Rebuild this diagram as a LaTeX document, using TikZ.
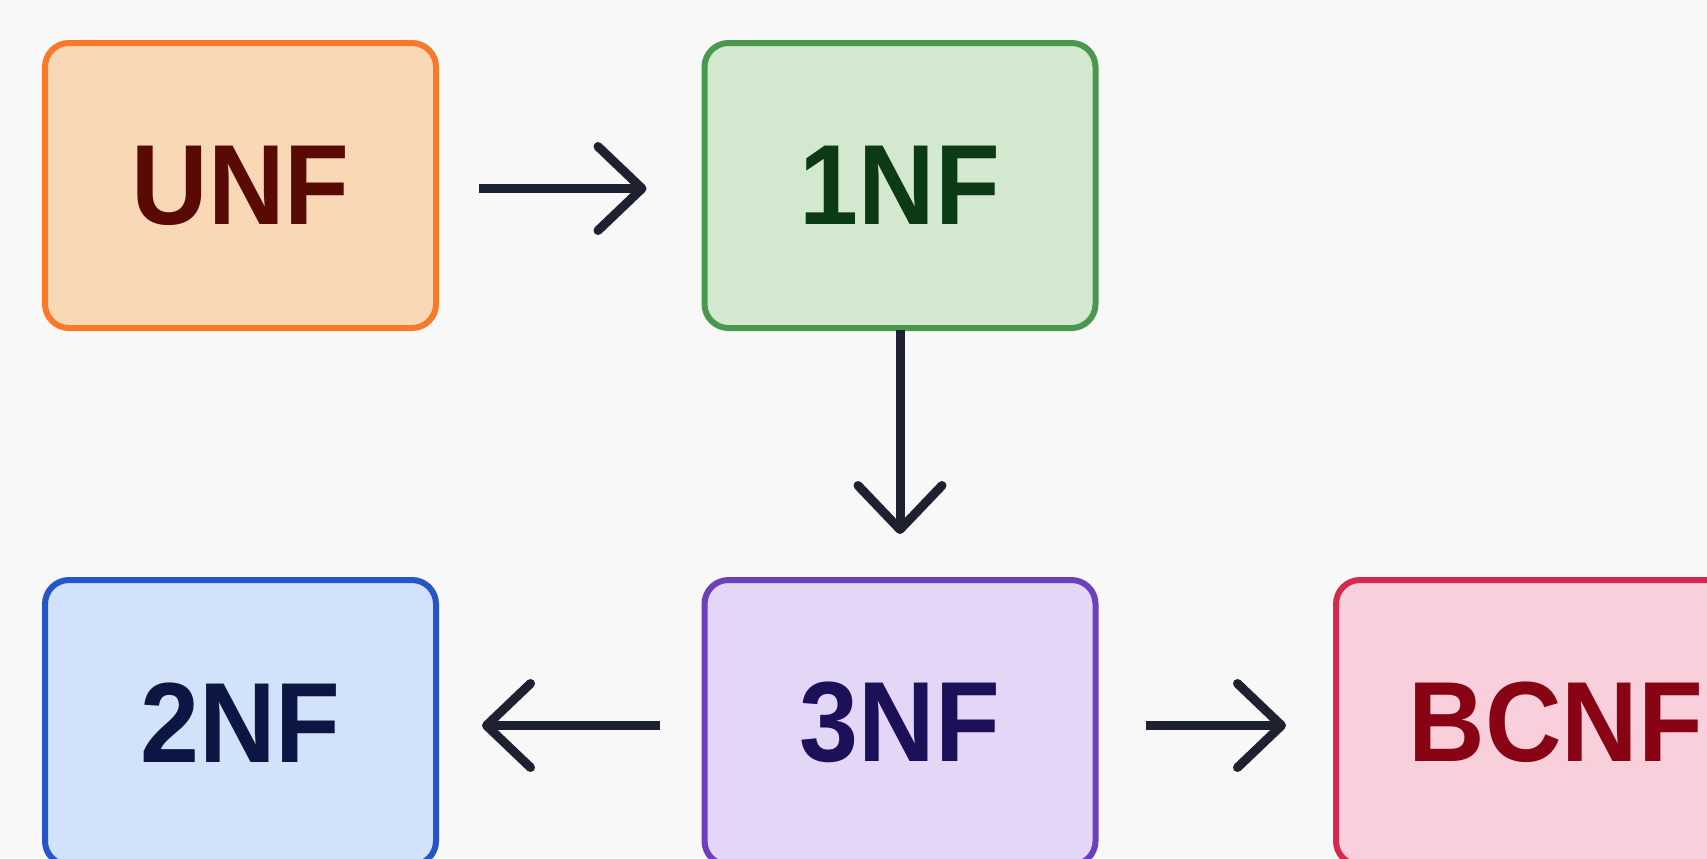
\documentclass[tikz,border=0pt]{standalone}
\usepackage{fontspec}
\setmainfont{Liberation Sans}
\newfontfamily\boxfont{Liberation Sans}[FakeStretch=0.93]
\usetikzlibrary{arrows.meta}
\definecolor{bg}{HTML}{F8F8F8}
\definecolor{unfF}{HTML}{F8D8B5}\definecolor{unfD}{HTML}{F9792A}\definecolor{unfT}{HTML}{5A0A05}
\definecolor{oneF}{HTML}{D3E9CF}\definecolor{oneD}{HTML}{4A9850}\definecolor{oneT}{HTML}{0B3A14}
\definecolor{twoF}{HTML}{D2E2FA}\definecolor{twoD}{HTML}{2555C6}\definecolor{twoT}{HTML}{0C1642}
\definecolor{thrF}{HTML}{E3D6F6}\definecolor{thrD}{HTML}{6C40BC}\definecolor{thrT}{HTML}{1C1058}
\definecolor{bcF}{HTML}{F8CFDB}\definecolor{bcD}{HTML}{D4284F}\definecolor{bcT}{HTML}{880414}
\definecolor{arr}{HTML}{1E2130}
\tikzset{
  nfbox/.style={rectangle, rounded corners=12pt, line width=3pt, outer sep=0pt,
    minimum width=195.5pt, minimum height=142.5pt, inner sep=0pt,
    font=\boxfont\fontsize{57}{62}\selectfont\bfseries},
  flow/.style={draw=arr, line width=4.5pt,
    -{Straight Barb[length=22pt,width=42pt,line width=4.5pt,round]}}
}
\begin{document}
\begin{tikzpicture}[x=0.5pt,y=-0.5pt]
\fill[bg] (0,0) rectangle (1707,858);
\useasboundingbox (0,0) rectangle (1707,858);
\node[nfbox, fill=unfF, draw=unfD, text=unfT] (unf) at (240.5,185.5) {UNF};
\node[nfbox, fill=oneF, draw=oneD, text=oneT] (one) at (900,185.5) {1NF};
\node[nfbox, fill=twoF, draw=twoD, text=twoT] (two) at (240.5,722.5) {2NF};
\node[nfbox, fill=thrF, draw=thrD, text=thrT] (thr) at (900,722.5) {3NF};
\node[nfbox, fill=bcF, draw=bcD, text=bcT, minimum width=220pt] (bc) at (1556,722.5) {BCNF};
\draw[flow, shorten <=21.5pt, shorten >=29pt] ([yshift=-1.5pt]unf.east) -- ([yshift=-1.5pt]one.west);
\draw[flow, shorten <=1pt, shorten >=23pt] (one.south) -- (thr.north);
\draw[flow, shorten <=22.5pt, shorten >=23pt] ([yshift=-1.5pt]thr.west) -- ([yshift=-1.5pt]two.east);
\draw[flow, shorten <=25pt, shorten >=25pt] ([yshift=-1.5pt]thr.east) -- ([yshift=-1.5pt]bc.west);
\end{tikzpicture}
\end{document}
